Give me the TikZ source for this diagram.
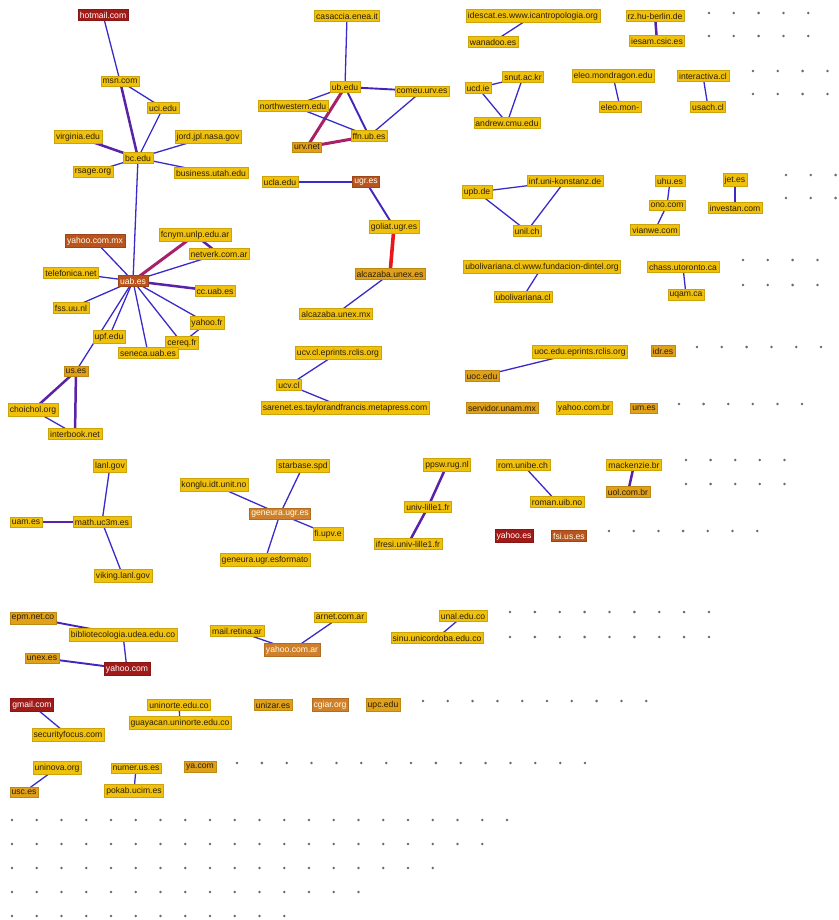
\documentclass[tikz,border=0pt]{standalone}
\usepackage{fontspec}
\setmainfont{Liberation Sans}
\usetikzlibrary{backgrounds}
\definecolor{nodeY}{HTML}{F0C10C}
\definecolor{nodeO}{HTML}{DFA01A}
\definecolor{nodeG}{HTML}{D0802A}
\definecolor{nodeB}{HTML}{B9541E}
\definecolor{nodeR}{HTML}{A01A18}
\definecolor{txt}{HTML}{2A1E08}
\definecolor{edgeB}{HTML}{3A2AC8}
\definecolor{edgeP}{HTML}{5A22A8}
\definecolor{edgeR}{HTML}{A82068}
\definecolor{edgeRR}{HTML}{E81818}
\definecolor{dotc}{HTML}{6A6A6A}
\tikzset{
 lbl/.style={fill=nodeY, draw=nodeY!85!black, line width=0.3pt, inner xsep=1.8pt, inner ysep=2.4pt, font=\fontsize{8.6}{9}\selectfont, text=txt},
 lblO/.style={lbl, fill=nodeO, draw=nodeO!85!black},
 lblG/.style={lbl, fill=nodeG, draw=nodeG!85!black, text=white!90!yellow},
 lblB/.style={lbl, fill=nodeB, draw=nodeB!85!black, text=white!92!yellow},
 lblR/.style={lbl, fill=nodeR, draw=nodeR!85!black, text=white},
 e/.style={draw=edgeB, line width=1.3pt},
 em/.style={draw=edgeB!85!violet, line width=1.9pt},
 ep/.style={draw=edgeP, line width=2.5pt},
 er/.style={draw=edgeR, line width=3pt},
 err/.style={draw=edgeRR, line width=3.6pt},
}
\begin{document}
\begin{tikzpicture}[x=1pt,y=-1pt]
\useasboundingbox (0,0) rectangle (838,920);
% cluster bc / uab
\node[lblR] (hot) at (103,15) {hotmail.com};
\node[lbl] (msn) at (120,81) {msn.com};
\node[lbl] (uci) at (163,108) {uci.edu};
\node[lbl] (vir) at (78,137) {virginia.edu};
\node[lbl] (jord) at (208,137) {jord.jpl.nasa.gov};
\node[lbl] (bc) at (138,158) {bc.edu};
\node[lbl] (rsage) at (93,172) {rsage.org};
\node[lbl] (bus) at (211,173) {business.utah.edu};
\node[lblB] (uab) at (133,281) {uab.es};
\node[lblB] (ymx) at (95,241) {yahoo.com.mx};
\node[lbl] (fcnym) at (195,235) {fcnym.unlp.edu.ar};
\node[lbl] (netv) at (219,254) {netverk.com.ar};
\node[lbl] (tel) at (71,273) {telefonica.net};
\node[lbl] (ccuab) at (215,291) {cc.uab.es};
\node[lbl] (fss) at (71,308) {fss.uu.nl};
\node[lbl] (yfr) at (207,323) {yahoo.fr};
\node[lbl] (upf) at (109,337) {upf.edu};
\node[lbl] (cereq) at (182,343) {cereq.fr};
\node[lbl] (seneca) at (148,353) {seneca.uab.es};
\node[lblO] (uses) at (76,371) {us.es};
\node[lbl] (choi) at (33,410) {choichol.org};
\node[lbl] (inter) at (75,434) {interbook.net};
% cluster ub
\node[lbl] (cas) at (347,16) {casaccia.enea.it};
\node[lbl] (ub) at (345,87) {ub.edu};
\node[lbl] (comeu) at (422,91) {comeu.urv.es};
\node[lbl] (north) at (293,106) {northwestern.edu};
\node[lbl] (ffn) at (369,136) {ffn.ub.es};
\node[lblO] (urv) at (307,147) {urv.net};
\node[lbl] (ucla) at (280,182) {ucla.edu};
\node[lblB] (ugr) at (366,182) {ugr.es};
\node[lbl] (goliat) at (394,227) {goliat.ugr.es};
\node[lblO] (alcaes) at (390,274) {alcazaba.unex.es};
\node[lbl] (alcamx) at (336,314) {alcazaba.unex.mx};
\node[lbl] (ucvep) at (338,353) {ucv.cl.eprints.rclis.org};
\node[lbl] (ucv) at (289,385) {ucv.cl};
\node[lbl] (sarenet) at (345,408) {sarenet.es.taylorandfrancis.metapress.com};
% top right
\node[lbl] (idescat) at (533,16) {idescat.es.www.icantropologia.org};
\node[lbl] (wanadoo) at (493,42) {wanadoo.es};
\node[lbl] (rz) at (655,16) {rz.hu-berlin.de};
\node[lbl] (iesam) at (657,41) {iesam.csic.es};
\node[lbl] (snut) at (523,77) {snut.ac.kr};
\node[lbl] (ucd) at (478,88) {ucd.ie};
\node[lbl] (andrew) at (507,123) {andrew.cmu.edu};
\node[lbl] (eleo) at (613,76) {eleo.mondragon.edu};
\node[lbl] (eleomon) at (620,107) {eleo.mon-};
\node[lbl] (interac) at (703,76) {interactiva.cl};
\node[lbl] (usach) at (708,107) {usach.cl};
\node[lbl] (upb) at (477,192) {upb.de};
\node[lbl] (inf) at (565,181) {inf.uni-konstanz.de};
\node[lbl] (unil) at (527,231) {unil.ch};
\node[lbl] (uhu) at (670,181) {uhu.es};
\node[lbl] (ono) at (667,205) {ono.com};
\node[lbl] (vianwe) at (655,230) {vianwe.com};
\node[lbl] (jet) at (735,180) {jet.es};
\node[lbl] (investan) at (735,208) {investan.com};
\node[lbl] (ubol) at (542,267) {ubolivariana.cl.www.fundacion-dintel.org};
\node[lbl] (ubolcl) at (523,297) {ubolivariana.cl};
\node[lbl] (chass) at (683,267) {chass.utoronto.ca};
\node[lbl] (uqam) at (686,295) {uqam.ca};
\node[lbl] (uocep) at (580,352) {uoc.edu.eprints.rclis.org};
\node[lblO] (uoc) at (482,376) {uoc.edu};
\node[lblO] (idr) at (663,351) {idr.es};
\node[lblO] (servidor) at (502,408) {servidor.unam.mx};
\node[lbl] (ybr) at (584,408) {yahoo.com.br};
\node[lblO] (umes) at (644,408) {um.es};
% middle
\node[lbl] (lanl) at (110,466) {lanl.gov};
\node[lbl] (math) at (102,522) {math.uc3m.es};
\node[lbl] (uam) at (26,522) {uam.es};
\node[lbl] (viking) at (123,576) {viking.lanl.gov};
\node[lbl] (konglu) at (214,485) {konglu.idt.unit.no};
\node[lbl] (starbase) at (303,466) {starbase.spd};
\node[lblG] (geneura) at (280,514) {geneura.ugr.es};
\node[lbl] (fiupv) at (328,534) {fi.upv.e};
\node[lbl] (genfor) at (265,560) {geneura.ugr.esformato};
\node[lbl] (ppsw) at (447,465) {ppsw.rug.nl};
\node[lbl] (lille) at (428,507) {univ-lille1.fr};
\node[lbl] (ifresi) at (408,544) {ifresi.univ-lille1.fr};
\node[lbl] (rom) at (523,465) {rom.unibe.ch};
\node[lbl] (roman) at (557,502) {roman.uib.no};
\node[lbl] (mack) at (634,465) {mackenzie.br};
\node[lblO] (uol) at (628,492) {uol.com.br};
\node[lblR] (yes) at (514,536) {yahoo.es};
\node[lblB] (fsi) at (569,536) {fsi.us.es};
% lower
\node[lblO] (epm) at (33,618) {epm.net.co};
\node[lbl] (biblio) at (123,635) {bibliotecologia.udea.edu.co};
\node[lblO] (unex) at (42,658) {unex.es};
\node[lblR] (ycom) at (127,669) {yahoo.com};
\node[lbl] (mailr) at (237,631) {mail.retina.ar};
\node[lbl] (arnet) at (340,617) {arnet.com.ar};
\node[lblG] (yar) at (292,650) {yahoo.com.ar};
\node[lbl] (unal) at (463,616) {unal.edu.co};
\node[lbl] (sinu) at (437,638) {sinu.unicordoba.edu.co};
\node[lblR] (gmail) at (32,705) {gmail.com};
\node[lbl] (secf) at (68,735) {securityfocus.com};
\node[lbl] (uninorte) at (179,705) {uninorte.edu.co};
\node[lbl] (guay) at (180,723) {guayacan.uninorte.edu.co};
\node[lblO] (unizar) at (273,705) {unizar.es};
\node[lblG] (cgiar) at (330,705) {cgiar.org};
\node[lblO] (upc) at (383,705) {upc.edu};
\node[lbl] (uninova) at (57,768) {uninova.org};
\node[lblO] (usc) at (24,792) {usc.es};
\node[lbl] (numer) at (136,768) {numer.us.es};
\node[lbl] (pokab) at (134,791) {pokab.ucim.es};
\node[lblO] (yacom) at (200,767) {ya.com};
% edges
\begin{pgfonlayer}{background}
\draw[e] (hot.center) -- (msn.center);
\draw[e] (msn.center) -- (uci.center);
\draw[ep] (msn.center) -- (bc.center);
\draw[e] (uci.center) -- (bc.center);
\draw[ep] (vir.center) -- (bc.center);
\draw[e] (jord.center) -- (bc.center);
\draw[e] (rsage.center) -- (bc.center);
\draw[e] (bus.center) -- (bc.center);
\draw[e] (bc.center) -- (uab.center);
\draw[e] (uab.center) -- (ymx.center);
\draw[er] (uab.center) -- (fcnym.center);
\draw[ep] (fcnym.center) -- (netv.center);
\draw[e] (uab.center) -- (netv.center);
\draw[e] (uab.center) -- (tel.center);
\draw[ep] (uab.center) -- (ccuab.center);
\draw[e] (uab.center) -- (fss.center);
\draw[e] (uab.center) -- (yfr.center);
\draw[e] (uab.center) -- (cereq.center);
\draw[e] (cereq.center) -- (yfr.center);
\draw[e] (uab.center) -- (seneca.center);
\draw[e] (uab.center) -- (upf.center);
\draw[e] (uab.center) -- (uses.center);
\draw[ep] (uses.center) -- (choi.center);
\draw[ep] (uses.center) -- (inter.center);
\draw[e] (choi.center) -- (inter.center);
\draw[e] (cas.center) -- (ub.center);
\draw[em] (ub.center) -- (comeu.center);
\draw[e] (ub.center) -- (north.center);
\draw[em] (ub.center) -- (ffn.center);
\draw[er] (ub.center) -- (urv.center);
\draw[e] (north.center) -- (ffn.center);
\draw[e] (comeu.center) -- (ffn.center);
\draw[er] (urv.center) -- (ffn.center);
\draw[e] (ucla.center) -- (ugr.center);
\draw[em] (ugr.center) -- (goliat.center);
\draw[err] (goliat.center) -- (alcaes.center);
\draw[e] (alcaes.center) -- (alcamx.center);
\draw[e] (ucvep.center) -- (ucv.center);
\draw[e] (ucv.center) -- (sarenet.center);
\draw[e] (idescat.center) -- (wanadoo.center);
\draw[ep] (rz.center) -- (iesam.center);
\draw[e] (ucd.center) -- (snut.center);
\draw[e] (ucd.center) -- (andrew.center);
\draw[e] (snut.center) -- (andrew.center);
\draw[e] (eleo.center) -- (eleomon.center);
\draw[e] (interac.center) -- (usach.center);
\draw[e] (upb.center) -- (inf.center);
\draw[e] (upb.center) -- (unil.center);
\draw[e] (inf.center) -- (unil.center);
\draw[e] (uhu.center) -- (ono.center);
\draw[e] (ono.center) -- (vianwe.center);
\draw[e] (jet.center) -- (investan.center);
\draw[e] (ubol.center) -- (ubolcl.center);
\draw[e] (chass.center) -- (uqam.center);
\draw[e] (uocep.center) -- (uoc.center);
\draw[e] (lanl.center) -- (math.center);
\draw[ep] (uam.center) -- (math.center);
\draw[e] (math.center) -- (viking.center);
\draw[e] (konglu.center) -- (geneura.center);
\draw[e] (starbase.center) -- (geneura.center);
\draw[e] (geneura.center) -- (genfor.center);
\draw[e] (geneura.center) -- (fiupv.center);
\draw[ep] (ppsw.center) -- (lille.center);
\draw[ep] (lille.center) -- (ifresi.center);
\draw[e] (rom.center) -- (roman.center);
\draw[ep] (mack.center) -- (uol.center);
\draw[em] (epm.center) -- (biblio.center);
\draw[e] (biblio.center) -- (ycom.center);
\draw[em] (unex.center) -- (ycom.center);
\draw[e] (mailr.center) -- (yar.center);
\draw[e] (arnet.center) -- (yar.center);
\draw[e] (unal.center) -- (sinu.center);
\draw[e] (gmail.center) -- (secf.center);
\draw[e] (uninorte.center) -- (guay.center);
\draw[e] (uninova.center) -- (usc.center);
\draw[e] (numer.center) -- (pokab.center);
\end{pgfonlayer}
% isolated vertices
\tikzset{dt/.style={fill=dotc}}
\foreach \y in {13,36} \foreach \k in {0,...,4} \fill[dt] (709+24.8*\k,\y) circle (1.4);
\foreach \y in {71,94} \foreach \k in {0,...,3} \fill[dt] (753+24.8*\k,\y) circle (1.4);
\foreach \y in {175,198} \foreach \k in {0,...,2} \fill[dt] (786+24.8*\k,\y) circle (1.4);
\foreach \y in {260,285} \foreach \k in {0,...,3} \fill[dt] (743+24.8*\k,\y) circle (1.4);
\foreach \k in {0,...,5} \fill[dt] (697+24.8*\k,347) circle (1.4);
\foreach \k in {0,...,5} \fill[dt] (679+24.6*\k,404) circle (1.4);
\foreach \y in {460,484} \foreach \k in {0,...,4} \fill[dt] (686+24.6*\k,\y) circle (1.4);
\foreach \k in {0,...,6} \fill[dt] (609+24.7*\k,531) circle (1.4);
\foreach \y in {612,637} \foreach \k in {0,...,8} \fill[dt] (510+24.87*\k,\y) circle (1.4);
\foreach \k in {0,...,9} \fill[dt] (423+24.8*\k,701) circle (1.4);
\foreach \k in {0,...,14} \fill[dt] (237+24.86*\k,763) circle (1.4);
\foreach \k in {0,...,20} \fill[dt] (12+24.75*\k,820) circle (1.4);
\foreach \k in {0,...,19} \fill[dt] (12+24.75*\k,844) circle (1.4);
\foreach \k in {0,...,17} \fill[dt] (12+24.75*\k,868) circle (1.4);
\foreach \k in {0,...,14} \fill[dt] (12+24.75*\k,892) circle (1.4);
\foreach \k in {0,...,11} \fill[dt] (12+24.75*\k,916) circle (1.4);
\end{tikzpicture}
\end{document}
